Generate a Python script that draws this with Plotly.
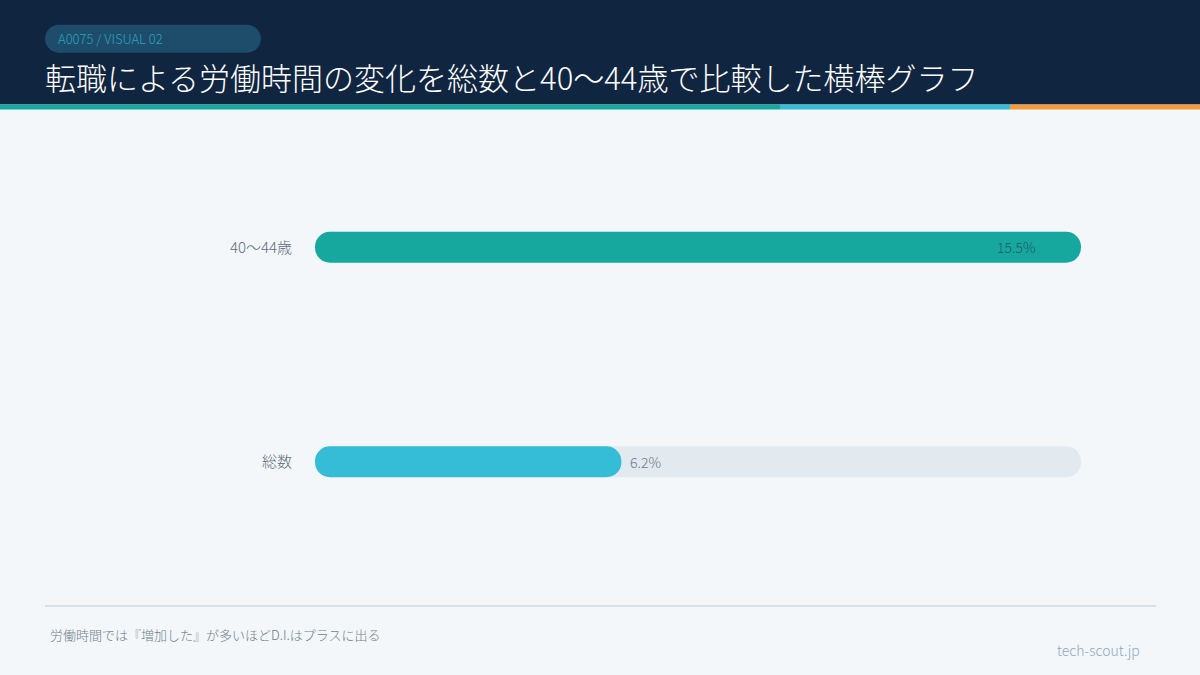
import math
import plotly.graph_objects as go

categories = ["総数", "40〜44歳"]
values = [6.2, 15.5]
value_labels = ["6.2%", "15.5%"]
bar_colors = ["#35bcd6", "#16a89e"]

title = "転職による労働時間の変化を総数と40〜44歳で比較した横棒グラフ"
badge = "A0075 / VISUAL 02"
footnote = "労働時間では『増加した』が多いほどD.I.はプラスに出る"
source = "tech-scout.jp"

W, H = 1200, 675
L, R = 315, 1081
T, B = 139.5, 569.5
xmax = max(values)
BAR_PX = 31
TRACK = "#e2e9ef"

def fx(px):
    return (px - L) / (R - L)

def fy(py):
    return (B - py) / (B - T)

FONT = "Noto Sans CJK JP Light, Noto Sans CJK JP DemiLight, Noto Sans CJK JP"
bar_w = BAR_PX / ((B - T) / 2)

fig = go.Figure()

def capsule(vals, colors):
    fig.add_trace(go.Bar(
        y=categories, x=list(vals), base=[0] * len(vals), orientation="h",
        marker=dict(color=colors, cornerradius="50%", line=dict(width=0)),
        width=bar_w, hoverinfo="skip", showlegend=False,
    ))

capsule([xmax] * len(categories), TRACK)
capsule(values, bar_colors)

annotations = []
for c, v, lab in zip(categories, values, value_labels):
    inside = v / xmax > 0.5
    annotations.append(dict(
        x=v, y=c, xref="x", yref="y", text=lab, showarrow=False,
        xanchor="right" if inside else "left",
        xshift=-43 if inside else 7,
        font=dict(family=FONT, size=14, color="#1f5b6b" if inside else "#6b7b88", weight=300),
    ))

annotations.append(dict(x=fx(56), y=fy(38), xref="paper", yref="paper", text=badge,
                        showarrow=False, xanchor="left", yanchor="middle",
                        font=dict(family=FONT, size=13, color="#2aa3bd", weight=300)))
annotations.append(dict(x=fx(43), y=fy(76), xref="paper", yref="paper", text=title,
                        showarrow=False, xanchor="left", yanchor="middle",
                        font=dict(family=FONT, size=31, color="#ffffff", weight=300)))
annotations.append(dict(x=fx(48), y=fy(635), xref="paper", yref="paper", text=footnote,
                        showarrow=False, xanchor="left", yanchor="middle",
                        font=dict(family=FONT, size=13, color="#6f7f8c", weight=300)))
annotations.append(dict(x=fx(1142), y=fy(651), xref="paper", yref="paper", text=source,
                        showarrow=False, xanchor="right", yanchor="middle",
                        font=dict(family=FONT, size=14, color="#8fa8ba", weight=300)))

def pill(x0, x1, y0, y1):
    r = (y1 - y0) / 2
    pts = []
    n = 14
    for i in range(n + 1):
        a = math.pi / 2 + math.pi * i / n
        pts.append((x0 + r + r * math.cos(a), (y0 + y1) / 2 - r * math.sin(a)))
    for i in range(n + 1):
        a = -math.pi / 2 + math.pi * i / n
        pts.append((x1 - r + r * math.cos(a), (y0 + y1) / 2 - r * math.sin(a)))
    return "M " + " L ".join(f"{fx(px):.5f},{fy(py):.5f}" for px, py in pts) + " Z"

shapes = [
    dict(type="rect", xref="paper", yref="paper", x0=fx(-2), x1=fx(W + 2), y0=fy(-2), y1=fy(104),
         fillcolor="#10253f", line=dict(width=0), layer="below"),
    dict(type="rect", xref="paper", yref="paper", x0=fx(-2), x1=fx(780), y0=fy(104), y1=fy(109),
         fillcolor="#16a89e", line=dict(width=0)),
    dict(type="rect", xref="paper", yref="paper", x0=fx(780), x1=fx(1010), y0=fy(104), y1=fy(109),
         fillcolor="#35bcd6", line=dict(width=0)),
    dict(type="rect", xref="paper", yref="paper", x0=fx(1010), x1=fx(W + 2), y0=fy(104), y1=fy(109),
         fillcolor="#f39c3c", line=dict(width=0)),
    dict(type="path", xref="paper", yref="paper", path=pill(45, 261, 24, 52),
         fillcolor="#1e4d6c", line=dict(width=0)),
    dict(type="line", xref="paper", yref="paper", x0=fx(45), x1=fx(1156), y0=fy(606.5), y1=fy(606.5),
         line=dict(color="#d6e0e7", width=2)),
]

fig.update_layout(
    width=W, height=H,
    margin=dict(l=L, r=W - R, t=T, b=H - B, pad=0),
    paper_bgcolor="#f3f7fa", plot_bgcolor="rgba(0,0,0,0)",
    barmode="overlay",
    xaxis=dict(range=[0, xmax], visible=False, fixedrange=True),
    yaxis=dict(range=[-0.5, 1.5], showgrid=False, zeroline=False, showline=False, ticks="",
               ticklabelstandoff=22,
               tickfont=dict(family=FONT, size=15, color="#5d6d7b", weight=300), fixedrange=True),
    annotations=annotations,
    shapes=shapes,
    showlegend=False,
)

fig.write_html("out.html", config={"displayModeBar": False},
               post_script="document.body.style.margin='0';document.body.style.padding='0';")
